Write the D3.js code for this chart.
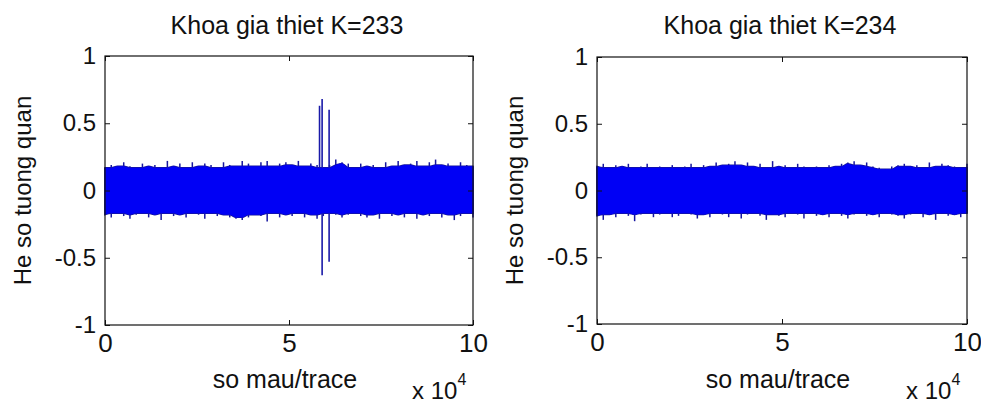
<!DOCTYPE html>
<html>
<head>
<meta charset="utf-8">
<script src="https://cdn.jsdelivr.net/npm/d3@7"></script>
<style>
  body { margin: 0; background: #fff; }
  text { font-family: "Liberation Sans", Arial, sans-serif; fill: #111; }
</style>
</head>
<body>
<svg id="chart" width="981" height="403"></svg>
<script>
// number of samples per trace
var nSamples = 100000

// axis ticks
var xTicks = [0, 50000, 100000]
var yTicks = [-1, -0.5, 0, 0.5, 1]

var titles = ["Khoa gia thiet K=233", "Khoa gia thiet K=234"]

// envelope of the trace (max / min) at 60 even steps
var upper233 = [0.17,0.19,0.18,0.21,0.18,0.17,0.20,0.18,0.19,0.17,0.22,0.18,0.20,0.17,0.21,0.18,0.20,0.19,0.17,0.21,
                0.19,0.18,0.22,0.20,0.18,0.21,0.22,0.18,0.20,0.21,0.19,0.22,0.18,0.20,0.19,0.17,0.19,0.23,0.21,0.20,
                0.17,0.20,0.18,0.19,0.17,0.21,0.18,0.22,0.19,0.20,0.22,0.18,0.21,0.23,0.19,0.20,0.18,0.21,0.19,0.18]
var lower233 = [-0.18,-0.20,-0.17,-0.19,-0.21,-0.18,-0.17,-0.20,-0.18,-0.22,-0.17,-0.19,-0.18,-0.20,-0.17,-0.18,-0.21,-0.17,-0.19,-0.18,
                -0.20,-0.21,-0.22,-0.20,-0.18,-0.19,-0.23,-0.17,-0.20,-0.18,-0.19,-0.17,-0.20,-0.18,-0.21,-0.19,-0.17,-0.18,-0.20,-0.18,
                -0.17,-0.19,-0.20,-0.18,-0.21,-0.17,-0.19,-0.18,-0.20,-0.17,-0.21,-0.18,-0.19,-0.17,-0.20,-0.18,-0.22,-0.19,-0.17,-0.20]
var upper234 = [0.18,0.20,0.17,0.19,0.18,0.20,0.17,0.18,0.20,0.17,0.18,0.17,0.19,0.17,0.18,0.20,0.17,0.19,0.18,0.21,
                0.19,0.20,0.22,0.19,0.21,0.18,0.20,0.17,0.22,0.18,0.19,0.17,0.20,0.18,0.17,0.18,0.17,0.19,0.18,0.20,
                0.21,0.22,0.19,0.21,0.18,0.17,0.16,0.18,0.19,0.20,0.18,0.19,0.17,0.21,0.18,0.20,0.19,0.18,0.17,0.20]
var lower234 = [-0.19,-0.22,-0.18,-0.20,-0.17,-0.19,-0.23,-0.18,-0.17,-0.20,-0.18,-0.17,-0.20,-0.19,-0.17,-0.18,-0.21,-0.18,-0.20,-0.17,
                -0.18,-0.20,-0.17,-0.21,-0.18,-0.17,-0.19,-0.22,-0.18,-0.19,-0.20,-0.17,-0.18,-0.21,-0.17,-0.19,-0.18,-0.20,-0.17,-0.19,
                -0.21,-0.18,-0.17,-0.19,-0.18,-0.20,-0.17,-0.18,-0.19,-0.21,-0.18,-0.17,-0.20,-0.18,-0.22,-0.17,-0.19,-0.18,-0.20,-0.17]

// isolated peaks in the K=233 trace: sample, max, min
var spikeX233 = [58300, 59000, 60900]
var spikeHi233 = [0.63, 0.68, 0.60]
var spikeLo233 = [-0.15, -0.63, -0.53]

var svg = d3.select("#chart")

var panels = [
  { left: 105, right: 473, top: 56, bottom: 325, up: upper233, lo: lower233,
    spikes: spikeX233.map(function(d, i){ return {x: d, hi: spikeHi233[i], lo: spikeLo233[i]} }) },
  { left: 597, right: 967, top: 57, bottom: 324, up: upper234, lo: lower234, spikes: [] }
]

panels.forEach(function(p, k) {
  var x = d3.scaleLinear().domain([0, nSamples]).range([p.left, p.right])
  var y = d3.scaleLinear().domain([-1, 1]).range([p.bottom, p.top])
  var g = svg.append("g")

  var step = nSamples / (p.up.length - 1)
  var n = p.up.length
  var band = p.up.map(function(d, i){
    var a = Math.max(i - 1, 0), b = Math.min(i + 1, n - 1)
    return {
      s: i * step, hi: d, lo: p.lo[i],
      // floor of the band: the lower of the neighbouring maxima
      baseHi: Math.min(p.up[a], d, p.up[b]),
      baseLo: Math.max(p.lo[a], p.lo[i], p.lo[b])
    }
  })

  var body = d3.area()
    .curve(d3.curveMonotoneX)
    .x(function(d){ return x(d.s) })
    .y0(function(d){ return y(d.baseLo) })
    .y1(function(d){ return y(d.baseHi) })

  g.append("path")
    .datum(band)
    .attr("d", body)
    .attr("fill", "#0000f5")
    .attr("stroke", "#15159a")
    .attr("stroke-width", 1.4)

  // local extremes poking out of the band
  g.selectAll(".peak")
    .data(band)
    .enter()
    .append("line")
      .attr("x1", function(d){ return x(d.s) })
      .attr("x2", function(d){ return x(d.s) })
      .attr("y1", function(d){ return y(d.hi) })
      .attr("y2", function(d){ return y(d.lo) })
      .attr("stroke", "#1515a0")
      .attr("stroke-width", 1.5)

  g.selectAll(".spike")
    .data(p.spikes)
    .enter()
    .append("line")
      .attr("x1", function(d){ return x(d.x) })
      .attr("x2", function(d){ return x(d.x) })
      .attr("y1", function(d){ return y(d.hi) })
      .attr("y2", function(d){ return y(d.lo) })
      .attr("stroke", "#1a1aa8")
      .attr("stroke-width", 1.6)

  // cover the inside so only the tips stay visible
  g.append("path")
    .datum(band)
    .attr("d", body)
    .attr("fill", "#0000f5")

  // box
  g.append("rect")
    .attr("x", p.left).attr("y", p.top)
    .attr("width", p.right - p.left).attr("height", p.bottom - p.top)
    .attr("fill", "none").attr("stroke", "#111").attr("stroke-width", 1.2)

  var fmtY = function(d){ return String(d) }
  var fmtX = function(d){ return String(d / 10000) }

  var ax = g.append("g").attr("transform", "translate(0," + p.bottom + ")")
    .call(d3.axisBottom(x).tickValues(xTicks).tickFormat(fmtX).tickSize(-5).tickPadding(9))
  ax.selectAll("text").style("font-size", "26px")

  g.append("g").attr("transform", "translate(0," + p.top + ")")
    .call(d3.axisTop(x).tickValues(xTicks).tickFormat("").tickSize(-5))

  var ay = g.append("g").attr("transform", "translate(" + p.left + ",0)")
    .call(d3.axisLeft(y).tickValues(yTicks).tickFormat(fmtY).tickSize(-5).tickPadding(9))
  ay.selectAll("text").style("font-size", "24px")

  g.append("g").attr("transform", "translate(" + p.right + ",0)")
    .call(d3.axisRight(y).tickValues(yTicks).tickFormat("").tickSize(-5))

  g.selectAll(".domain").remove()
  g.selectAll(".tick line").attr("stroke", "#111")
  g.selectAll(".tick text").attr("fill", "#111").style("font-family", "'Liberation Sans', Arial, sans-serif")

  var cx = (p.left + p.right) / 2
  g.append("text")
    .attr("x", cx - 2).attr("y", 34)
    .attr("text-anchor", "middle")
    .style("font-size", "25px")
    .text(titles[k])

  g.append("text")
    .attr("x", cx - 4).attr("y", 388)
    .attr("text-anchor", "middle")
    .style("font-size", "25px")
    .text("so mau/trace")

  g.append("text")
    .attr("transform", "translate(" + (p.left - 74) + "," + ((p.top + p.bottom) / 2) + ") rotate(-90)")
    .attr("text-anchor", "middle")
    .style("font-size", "24px")
    .text("He so tuong quan")

  var ex = g.append("text")
    .attr("x", p.right - 61).attr("y", 399)
    .style("font-size", "24px")
  ex.append("tspan").text("x 10")
  ex.append("tspan").attr("dy", -14).style("font-size", "16px").text("4")
})
</script>
</body>
</html>
